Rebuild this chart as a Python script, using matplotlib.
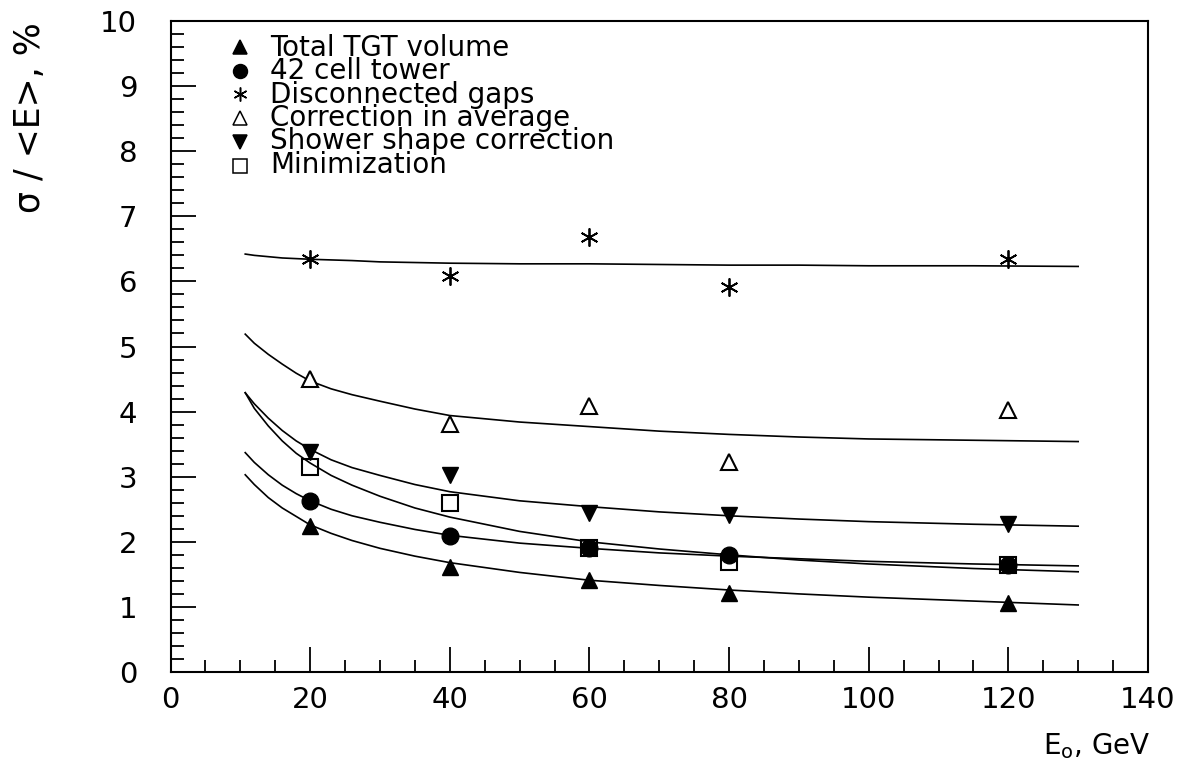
import numpy as np
import matplotlib
matplotlib.use("Agg")
import matplotlib.pyplot as plt
from matplotlib.ticker import MultipleLocator

plt.rcParams['font.family'] = ['DejaVu Sans']

# [data]______________________________________________________________________
E = [20, 40, 60, 80, 120]
total_tgt = [2.24, 1.62, 1.42, 1.21, 1.06]
cell42 = [2.63, 2.09, 1.91, 1.80, 1.64]
disconnected = [6.35, 6.08, 6.68, 5.91, 6.35]
corr_average = [4.50, 3.81, 4.08, 3.22, 4.02]
shower_shape = [3.38, 3.03, 2.44, 2.41, 2.28]
minimization = [3.15, 2.59, 1.91, 1.69, 1.64]

# fit curves
E_fit = [10.7, 12, 14, 16, 18, 20, 23, 26, 30, 35, 40, 50, 60, 70, 80, 90, 100, 115, 130]
fit_total = [3.03, 2.88, 2.68, 2.52, 2.39, 2.26, 2.13, 2.02, 1.90, 1.78, 1.68, 1.53, 1.41, 1.33, 1.26, 1.20, 1.15, 1.09, 1.03]
fit_cell = [3.37, 3.22, 3.03, 2.87, 2.74, 2.63, 2.50, 2.40, 2.30, 2.19, 2.10, 1.98, 1.90, 1.83, 1.78, 1.74, 1.70, 1.66, 1.63]
fit_disc = [6.42, 6.40, 6.38, 6.36, 6.35, 6.34, 6.33, 6.32, 6.30, 6.29, 6.28, 6.27, 6.27, 6.26, 6.25, 6.25, 6.24, 6.24, 6.23]
fit_avg = [5.19, 5.05, 4.88, 4.73, 4.59, 4.47, 4.35, 4.26, 4.16, 4.04, 3.94, 3.84, 3.77, 3.70, 3.65, 3.61, 3.58, 3.56, 3.54]
fit_shower = [4.29, 4.12, 3.90, 3.71, 3.55, 3.42, 3.26, 3.14, 3.02, 2.88, 2.77, 2.63, 2.54, 2.46, 2.40, 2.35, 2.31, 2.27, 2.24]
fit_min = [4.29, 4.05, 3.78, 3.55, 3.36, 3.21, 3.02, 2.87, 2.70, 2.52, 2.38, 2.16, 2.00, 1.89, 1.80, 1.72, 1.66, 1.59, 1.54]

labels = ["Total TGT volume", "42 cell tower", "Disconnected gaps",
          "Correction in average", "Shower shape correction", "Minimization"]

# [plot]______________________________________________________________________
fig = plt.figure(figsize=(11.9, 7.69), dpi=100)
ax = fig.add_axes([0.1433, 0.1261, 0.8214, 0.8466])

for f in [fit_total, fit_cell, fit_disc, fit_avg, fit_shower, fit_min]:
    ax.plot(E_fit, f, color="black", lw=1.2)

ms = 12
asterisk = (6, 2, 0)
ax.plot(E, total_tgt, "^", color="black", ms=ms, ls="none")
ax.plot(E, cell42, "o", color="black", ms=ms, ls="none")
ax.plot(E, disconnected, marker=asterisk, color="black", ms=ms + 1, ls="none", mew=1.3)
ax.plot(E, corr_average, "^", color="black", ms=ms, ls="none", mfc="white", mew=1.5)
ax.plot(E, shower_shape, "v", color="black", ms=ms, ls="none")
ax.plot(E, minimization, "s", color="black", ms=ms - 1, ls="none", mfc="none", mew=1.5)

# legend drawn by hand
lx, tx, ly, dy = 0.071, 0.102, 0.9605, 0.0366
leg_m = [dict(marker="^", mfc="black"), dict(marker="o", mfc="black"),
         dict(marker=asterisk, mfc="black"), dict(marker="^", mfc="white"),
         dict(marker="v", mfc="black"), dict(marker="s", mfc="white")]
for i, m in enumerate(leg_m):
    ax.plot([lx], [ly - i * dy], transform=ax.transAxes, color="black", ms=10,
            mew=1.1, ls="none", clip_on=False, **m)
ax.text(tx, ly - 2.5 * dy, "\n".join(labels), transform=ax.transAxes,
        fontsize=20, va="center", ha="left", linespacing=0.79)

ax.set_xlim(0, 140)
ax.set_ylim(0, 10)
ax.xaxis.set_major_locator(MultipleLocator(20))
ax.xaxis.set_minor_locator(MultipleLocator(5))
ax.yaxis.set_major_locator(MultipleLocator(1))
ax.yaxis.set_minor_locator(MultipleLocator(0.2))
ax.tick_params(which="both", direction="in", top=False, right=False, width=1.3)
ax.tick_params(which="major", length=18, labelsize=21)
ax.tick_params(which="minor", length=9)
ax.tick_params(axis="y", which="major", pad=24)
ax.tick_params(axis="x", which="major", pad=10)
for s in ax.spines.values():
    s.set_linewidth(1.5)

fig.text(30 / 1190, 1 - 22 / 769, "σ / <E>, %", rotation=90, ha="center",
         va="top", fontsize=25)
fig.text(1150 / 1190, 1 - 746 / 769, r"E$_\mathregular{o}$, GeV", ha="right",
         va="center", fontsize=20)

plt.savefig("out.png", dpi=100)
